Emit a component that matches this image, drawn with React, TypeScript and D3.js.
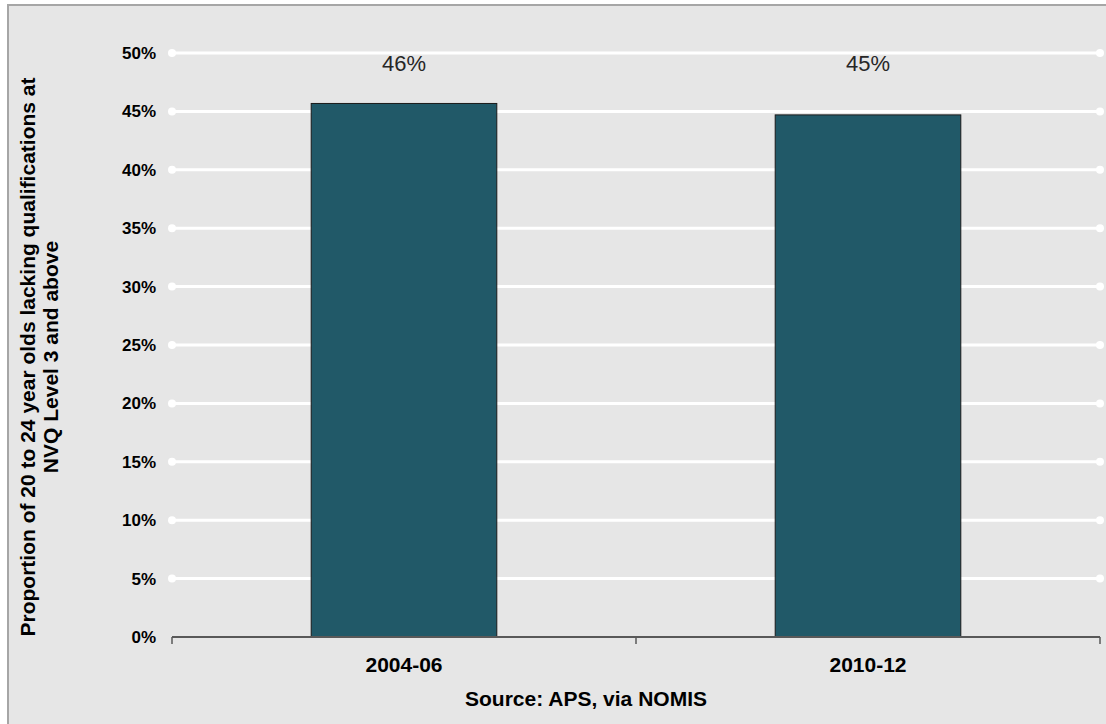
import React from "react";
import * as d3 from "d3";

const categories = ["2004-06", "2010-12"];
const values = [0.4568, 0.4470];
const valueLabels = ["46%", "45%"];
const yTicks = [0, 0.05, 0.1, 0.15, 0.2, 0.25, 0.3, 0.35, 0.4, 0.45, 0.5];
const yTitleLines = ["Proportion of 20 to 24 year olds lacking qualifications at", "NVQ Level 3 and above"];
const xTitle = "Source: APS, via NOMIS";

export default function App() {
  const W = 1106, H = 724;
  const left = 172, right = 1100, top = 53, bottom = 637;
  const x = d3.scaleBand<string>().domain(categories).range([left, right]).padding(0);
  const y = d3.scaleLinear().domain([0, 0.5]).range([bottom, top]);
  const bw = x.bandwidth() * 0.4;
  const font = "Arial, 'Liberation Sans', sans-serif";
  const boundaries = [left, ...categories.map((c) => (x(c) as number) + x.bandwidth())];
  return (
    <div style={{ position: "absolute", left: 0, top: 0 }}>
      <svg width={W} height={H} style={{ display: "block" }} fontFamily={font}>
        <rect x={0} y={0} width={W} height={H} fill="#ffffff" />
        <rect x={8} y={5} width={W + 10} height={H + 10} fill="#e6e6e6" stroke="#a6a6a6" strokeWidth={2} />
        {yTicks.filter((t) => t > 0).map((t) => (
          <g key={t}>
            <line x1={left} x2={right} y1={y(t)} y2={y(t)} stroke="#ffffff" strokeWidth={3} />
            <circle cx={left} cy={y(t)} r={4} fill="#ffffff" />
            <circle cx={right} cy={y(t)} r={4} fill="#ffffff" />
          </g>
        ))}
        {yTicks.map((t) => (
          <text key={"l" + t} x={156} y={y(t)} dy="0.35em" textAnchor="end" fontSize={17} fontWeight="bold" fill="#000">
            {d3.format(".0%")(t)}
          </text>
        ))}
        {categories.map((c, i) => {
          const cx = (x(c) as number) + x.bandwidth() / 2;
          return (
            <g key={c}>
              <rect x={cx - bw / 2} y={y(values[i])} width={bw} height={bottom - y(values[i])} fill="#215968" stroke="#1a1a1a" strokeWidth={1} />
              <text x={cx} y={y(0.5) + 10} dy="0.35em" textAnchor="middle" fontSize={22} fill="#262626">
                {valueLabels[i]}
              </text>
              <text x={cx} y={665} dy="0.35em" textAnchor="middle" fontSize={21} fontWeight="bold" fill="#000">
                {c}
              </text>
            </g>
          );
        })}
        <line x1={left} x2={right} y1={bottom} y2={bottom} stroke="#595959" strokeWidth={2} />
        {boundaries.map((b, i) => (
          <line key={"t" + i} x1={b} x2={b} y1={bottom} y2={bottom + 7} stroke="#595959" strokeWidth={1.5} />
        ))}
        <text x={586} y={699} dy="0.35em" textAnchor="middle" fontSize={21} fontWeight="bold" fill="#000">
          {xTitle}
        </text>
        <g transform={`translate(0, 357) rotate(-90)`}>
          {yTitleLines.map((l, i) => (
            <text key={i} x={0} y={35 + i * 23} textAnchor="middle" fontSize={21} fontWeight="bold" fill="#000">
              {l}
            </text>
          ))}
        </g>
      </svg>
    </div>
  );
}
